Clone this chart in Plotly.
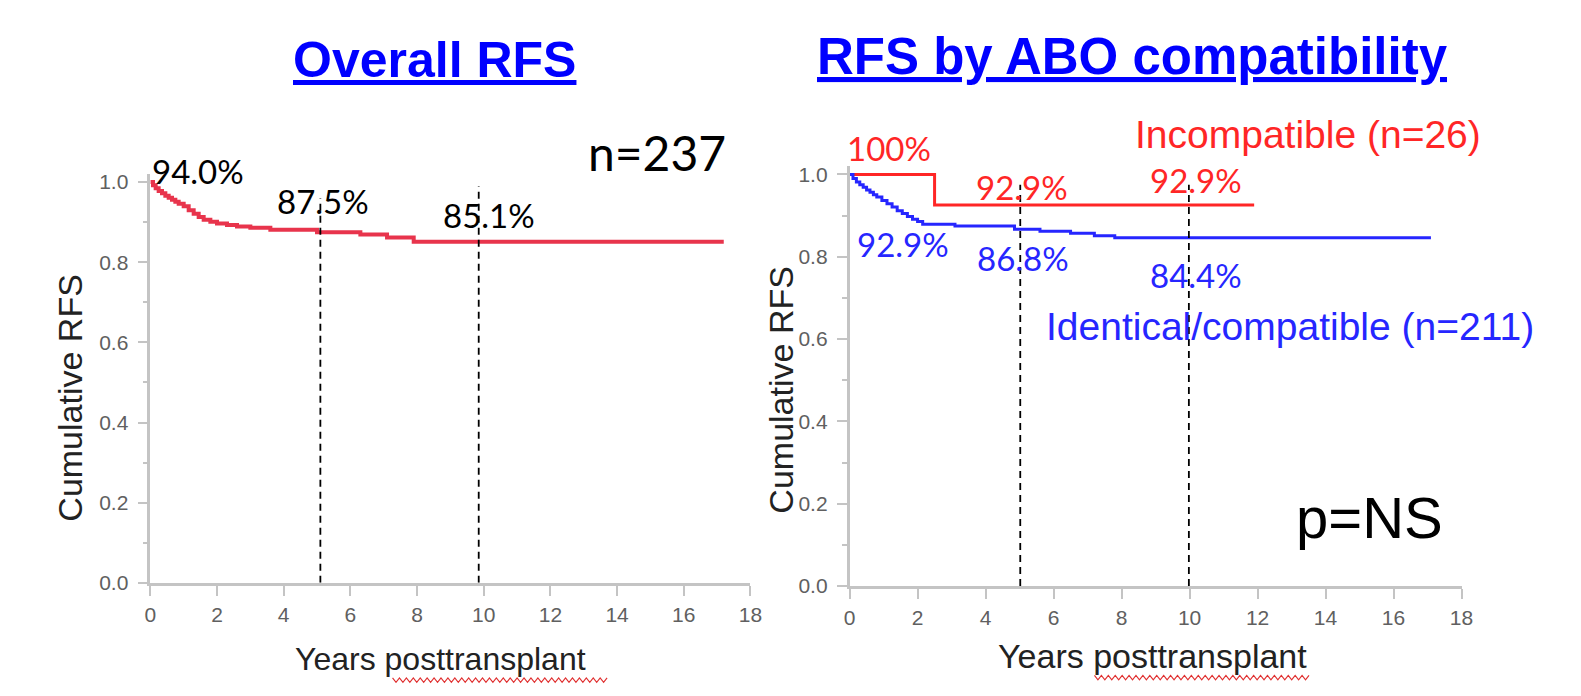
import plotly.graph_objects as go
import numpy as np

# ---------------- data ----------------
# Overall RFS (n=237) step curve
overall_t = [0, 0.08, 0.16, 0.25, 0.35, 0.45, 0.55, 0.65, 0.75, 0.85, 1.0, 1.15, 1.3, 1.45, 1.6, 1.8, 2.0, 2.3, 2.6, 3.0, 3.6, 5.0, 6.3, 7.1, 7.9, 17.2]
overall_s = [1.0, 0.992, 0.985, 0.978, 0.972, 0.966, 0.961, 0.956, 0.951, 0.946, 0.940, 0.930, 0.921, 0.913, 0.906, 0.901, 0.897, 0.893, 0.889, 0.886, 0.881, 0.875, 0.869, 0.862, 0.851, 0.851]

# Incompatible (n=26)
incomp_t = [0, 2.5, 11.9]
incomp_s = [1.0, 0.926, 0.926]

# Identical/compatible (n=211)
ident_t = [0, 0.1, 0.2, 0.3, 0.4, 0.5, 0.6, 0.7, 0.8, 0.95, 1.1, 1.25, 1.4, 1.55, 1.7, 1.85, 2.0, 2.15, 3.1, 4.85, 5.6, 6.5, 7.2, 7.8, 17.1]
ident_s = [1.0, 0.990, 0.982, 0.975, 0.969, 0.962, 0.957, 0.951, 0.945, 0.937, 0.929, 0.921, 0.912, 0.905, 0.898, 0.891, 0.886, 0.879, 0.875, 0.867, 0.862, 0.857, 0.851, 0.846, 0.846]

left_marks_x = [5.1, 9.85]
left_marks_top = [0.96, 0.99]
right_marks_x = [5.02, 9.98]
right_marks_top = [0.975, 0.975]

x_ticks = list(range(0, 19, 2))
y_ticks = [0.0, 0.2, 0.4, 0.6, 0.8, 1.0]
y_ticklabels = ["0.0", "0.2", "0.4", "0.6", "0.8", "1.0"]

W, H = 1581, 696
def px(x): return x / W
def py(y): return 1 - y / H

fig = go.Figure()

LEFT_RED = "#E8344C"
RED = "#FF2626"
BLUE = "#2626FF"

fig.add_trace(go.Scatter(x=overall_t, y=overall_s, mode="lines", line=dict(color=LEFT_RED, width=4, shape="hv"),
                         xaxis="x", yaxis="y", showlegend=False, hoverinfo="skip"))
for xv, top in zip(left_marks_x, left_marks_top):
    fig.add_trace(go.Scatter(x=[xv, xv], y=[0, top], mode="lines", line=dict(color="black", width=1.8, dash="7px,5px"),
                             xaxis="x", yaxis="y", showlegend=False, hoverinfo="skip"))

fig.add_trace(go.Scatter(x=incomp_t, y=incomp_s, mode="lines", line=dict(color=RED, width=3, shape="hv"),
                         xaxis="x2", yaxis="y2", showlegend=False, hoverinfo="skip"))
fig.add_trace(go.Scatter(x=ident_t, y=ident_s, mode="lines", line=dict(color=BLUE, width=3, shape="hv"),
                         xaxis="x2", yaxis="y2", showlegend=False, hoverinfo="skip"))
for xv, top in zip(right_marks_x, right_marks_top):
    fig.add_trace(go.Scatter(x=[xv, xv], y=[0, top], mode="lines", line=dict(color="black", width=1.8, dash="7px,5px"),
                             xaxis="x2", yaxis="y2", showlegend=False, hoverinfo="skip"))

tickfont = dict(family="Liberation Sans, Arial", size=21, color="#606060")
AX = "#C4C4C4"
def xaxis(domain, anchor):
    return dict(domain=domain, anchor=anchor, range=[0, 18], tickvals=x_ticks, showline=True, linecolor=AX,
                linewidth=2.5, ticks="outside", ticklen=10, tickcolor=AX, tickwidth=2, showgrid=False,
                zeroline=False, tickfont=tickfont, ticklabelstandoff=1)
def yaxis(domain, anchor):
    return dict(domain=domain, anchor=anchor, range=[0, 1.02], tickvals=y_ticks, ticktext=y_ticklabels, showline=True,
                linecolor=AX, linewidth=2.5, ticks="outside", ticklen=10, tickcolor=AX, tickwidth=2,
                showgrid=False, zeroline=False, tickfont=tickfont, ticklabelstandoff=5,
                minor=dict(tickvals=[0.1, 0.3, 0.5, 0.7, 0.9], ticks="outside", ticklen=5, tickcolor=AX, tickwidth=1.5))

fig.update_layout(
    width=W, height=H, margin=dict(l=0, r=0, t=0, b=0), autosize=False,
    paper_bgcolor="white", plot_bgcolor="white",
    xaxis=xaxis([px(146), px(753)], "y"),
    yaxis=yaxis([py(591.7), py(591.7 - 408.9 * 1.02)], "x"),
    xaxis2=xaxis([px(853.3), px(1472.3)], "y2"),
    yaxis2=yaxis([py(595), py(595 - 420 * 1.02)], "x2"),
)

ann = []
def add(text, x, y, size, color="black", family="Liberation Sans, Arial", xref="paper", yref="paper", angle=0):
    ann.append(dict(text=text, x=x, y=y, xref=xref, yref=yref, showarrow=False, textangle=angle,
                    font=dict(family=family, size=size, color=color), xanchor="center", yanchor="middle"))

TITLE_BLUE = "#0000FF"
add("<b><u>Overall RFS</u></b>", px(433.5), py(58), 50, TITLE_BLUE)
add("<b><u>RFS by ABO compatibility</u></b>", px(1139.5), py(55), 51, TITLE_BLUE)

add("Cumulative RFS", px(65), py(402.5), 34, "#222222", angle=-90)
add("Cumulative RFS", px(783.5), py(395), 34, "#222222", angle=-90)
add("Years posttransplant", px(439.6), py(669), 32, "#222222")
add("Years posttransplant", px(1159.6), py(666), 34, "#222222")

LAB = "Lato, Noto Sans, sans-serif"
LS = 33
add("94.0%", px(194), py(171), LS, "black", LAB)
add("87.5%", 5.18, 0.954, LS, "black", LAB, "x", "y")
add("85.1%", 10.17, 0.917, LS, "black", LAB, "x", "y")
add("n=237", px(659), py(153), 48, "black", LAB)

add("100%", px(893.5), py(147.5), LS, RED, LAB)
add("92.9%", 5.08, 0.969, LS, RED, LAB, "x2", "y2")
add("92.9%", 10.2, 0.987, LS, RED, LAB, "x2", "y2")
add("Incompatible (n=26)", px(1317), py(134), 39, RED)
add("92.9%", 1.56, 0.831, LS, BLUE, LAB, "x2", "y2")
add("86.8%", 5.09, 0.797, LS, BLUE, LAB, "x2", "y2")
add("84.4%", 10.2, 0.756, LS, BLUE, LAB, "x2", "y2")
add("Identical/compatible (n=211)", px(1298.7), py(330), 39, BLUE)
add("p=NS", px(1379), py(525), 58, "black")

fig.update_layout(annotations=ann)

# spell-check style wavy underline under "posttransplant"
def wavy(x0, x1, y, amp=2.2, step=3.5):
    xs = np.arange(x0, x1 + 0.01, step)
    pts = [f"{px(xv)},{py(y + (amp if i % 2 else -amp))}" for i, xv in enumerate(xs)]
    return "M " + " L ".join(pts)
for x0, x1, y in [(391, 610, 691), (1101, 1319, 688.5)]:
    fig.add_shape(type="path", path=wavy(x0, x1, y), xref="paper", yref="paper",
                  line=dict(color="#E03030", width=1.2))

post = """
document.documentElement.style.margin='0px';
document.body.style.margin='0px';
document.documentElement.style.overflow='hidden';
document.body.style.overflow='hidden';
"""
fig.write_html("out.html", post_script=post, config={"displayModeBar": False})
